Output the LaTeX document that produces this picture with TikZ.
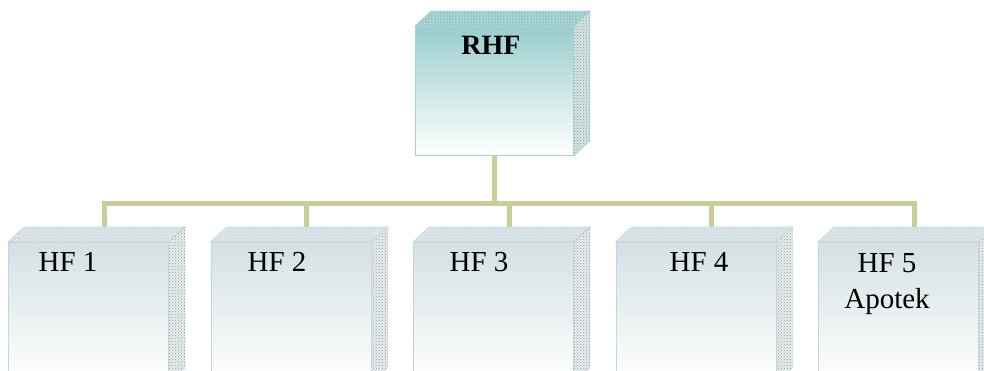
\documentclass[tikz,border=0pt]{standalone}
\usepackage{fontspec}
\setmainfont{Liberation Serif}
\usetikzlibrary{patterns,calc}
\definecolor{buscol}{HTML}{CCCC99}
\definecolor{rhftop}{HTML}{9ACDCD}
\definecolor{rhfedge}{HTML}{A6D3D3}
\definecolor{rhflid}{HTML}{96C8C8}
\definecolor{rhfside}{HTML}{CFE6E6}
\definecolor{hftop}{HTML}{D4E0E3}
\definecolor{hfedge}{HTML}{C6D5D9}
\definecolor{hflid}{HTML}{D2DEE1}
\definecolor{hfside}{HTML}{E6EDEF}
\tikzset{
  conn/.style={draw=buscol, line width=5pt, line join=miter},
  lbl/.style={font=\fontsize{29}{36}\selectfont, align=center, text=black, inner sep=0pt},
}
% name, x, y, width, height, front top colour, edge colour, lid colour, side colour
\newcommand\cubebox[9]{%
  \node[minimum width=#4pt, minimum height=#5pt, inner sep=0pt, anchor=north west,
        draw=#7, line width=0.8pt, top color=#6, bottom color=white] (#1) at (#2,#3) {};
  \filldraw[fill=#8, draw=#7, line width=0.6pt] (#1.north west) -- ++(16,-15) -- ($(#1.north east)+(16,-15)$) -- (#1.north east) -- cycle;
  \fill[pattern=crosshatch dots, pattern color=white!75!#8] (#1.north west) -- ++(16,-15) -- ($(#1.north east)+(16,-15)$) -- (#1.north east) -- cycle;
  \filldraw[fill=#9, draw=#7, line width=0.6pt] (#1.north east) -- ++(16,-15) -- ($(#1.south east)+(16,-15)$) -- (#1.south east) -- cycle;
  \fill[pattern=crosshatch dots, pattern color=black!40] (#1.north east) -- ++(16,-15) -- ($(#1.south east)+(16,-15)$) -- (#1.south east) -- cycle;
  \coordinate (#1top) at ($(#1.north)+(16,-15)$);
}
\begin{document}
\begin{tikzpicture}[x=1pt, y=-1pt]
  \useasboundingbox (0,0) rectangle (984,370);
  \clip (0,0) rectangle (984,370);
  \fill[white] (0,0) rectangle (984,370);

  \cubebox{rhf}{415}{26}{158}{129}{rhftop}{rhfedge}{rhflid}{rhfside}
  \cubebox{hfa}{8}{242}{160}{140}{hftop}{hfedge}{hflid}{hfside}
  \cubebox{hfb}{210.5}{242}{160}{140}{hftop}{hfedge}{hflid}{hfside}
  \cubebox{hfc}{413}{242}{160}{140}{hftop}{hfedge}{hflid}{hfside}
  \cubebox{hfd}{615.5}{242}{160}{140}{hftop}{hfedge}{hflid}{hfside}
  \cubebox{hfe}{818}{242}{160}{140}{hftop}{hfedge}{hflid}{hfside}

  \coordinate (bus) at (0,203.5);
  \draw[conn] (hfatop) -- (hfatop |- bus) -- (hfetop |- bus) -- (hfetop);
  \draw[conn] (rhf.south) -- (rhf.south |- bus);
  \draw[conn] (hfbtop |- bus) -- (hfbtop);
  \draw[conn] (hfctop |- bus) -- (hfctop);
  \draw[conn] (hfdtop |- bus) -- (hfdtop);

  \node[lbl, font=\fontsize{28}{36}\selectfont\bfseries] (trhf) at (491,45) {RHF};
  \node[lbl] (ta) at (68,262) {HF 1};
  \node[lbl] (tb) at (277,262) {HF 2};
  \node[lbl] (tc) at (479,262) {HF 3};
  \node[lbl] (td) at (699,262) {HF 4};
  \node[lbl] (te) at (887,284) {HF 5\\Apotek};
\end{tikzpicture}
\end{document}
